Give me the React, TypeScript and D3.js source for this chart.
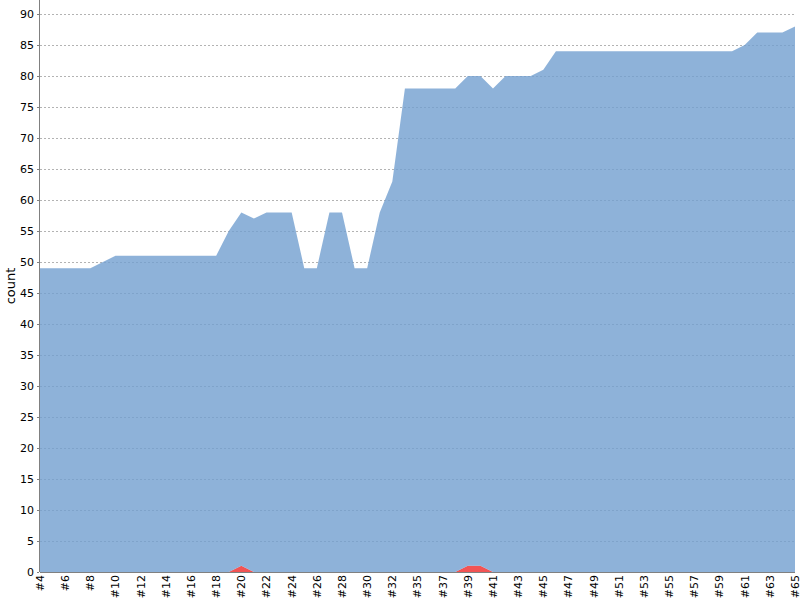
import React from 'react';
import * as d3 from 'd3';

// build labels (one build between #32 and #35 is absent)
const builds = [
  '#4', '#5', '#6', '#7', '#8', '#9', '#10', '#11', '#12', '#13', '#14', '#15', '#16', '#17', '#18',
  '#19', '#20', '#21', '#22', '#23', '#24', '#25', '#26', '#27', '#28', '#29', '#30', '#31', '#32',
  '#33', '#35', '#36', '#37', '#38', '#39', '#40', '#41', '#42', '#43', '#44', '#45', '#46', '#47',
  '#48', '#49', '#50', '#51', '#52', '#53', '#54', '#55', '#56', '#57', '#58', '#59', '#60', '#61',
  '#62', '#63', '#64', '#65',
];

const failed = [
  0, 0, 0, 0, 0, 0, 0, 0, 0, 0, 0, 0, 0, 0, 0,
  0, 1, 0, 0, 0, 0, 0, 0, 0, 0, 0, 0, 0, 0,
  0, 0, 0, 0, 0, 1, 1, 0, 0, 0, 0, 0, 0, 0,
  0, 0, 0, 0, 0, 0, 0, 0, 0, 0, 0, 0, 0, 0,
  0, 0, 0, 0,
];

const passed = [
  49, 49, 49, 49, 49, 50, 51, 51, 51, 51, 51, 51, 51, 51, 51,
  55, 57, 57, 58, 58, 58, 49, 49, 58, 58, 49, 49, 58, 63,
  78, 78, 78, 78, 78, 79, 79, 78, 80, 80, 80, 81, 84, 84,
  84, 84, 84, 84, 84, 84, 84, 84, 84, 84, 84, 84, 84, 85,
  87, 87, 87, 88,
];

const yTicks = d3.range(0, 91, 5);

const W = 800;
const H = 600;
const left = 40;
const right = 795;
const top = 0;
const bottom = 572;

const font = '"DejaVu Sans", Verdana, sans-serif';

export default function App() {
  const x = d3.scalePoint<string>().domain(builds).range([left, right]);
  const y = d3.scaleLinear().domain([0, 92.26]).range([bottom, top]);

  const rows = builds.map((b, i) => ({ b, f: failed[i], p: passed[i] }));

  // failures at the bottom, passes stacked on top
  const failArea = d3
    .area<typeof rows[0]>()
    .x((d) => x(d.b) as number)
    .y0(() => y(0))
    .y1((d) => y(d.f));

  const passArea = d3
    .area<typeof rows[0]>()
    .x((d) => x(d.b) as number)
    .y0((d) => y(d.f))
    .y1((d) => y(d.f + d.p));

  return (
    <svg
      width={W}
      height={H}
      style={{ position: 'absolute', left: 0, top: 0, background: '#fff' }}
      fontFamily={font}
    >
      {yTicks.map((t) => (
        <line
          key={'g' + t}
          x1={left}
          x2={right}
          y1={y(t) + 0.5}
          y2={y(t) + 0.5}
          stroke="#808080"
          strokeWidth={0.6}
          strokeDasharray="2,2"
        />
      ))}

      <path d={failArea(rows) || ''} fill="#ef2929" fillOpacity={0.8} />
      <path d={passArea(rows) || ''} fill="#729fcf" fillOpacity={0.8} />

      {/* y axis */}
      <line x1={left - 0.5} x2={left - 0.5} y1={top} y2={bottom} stroke="#808080" />
      {yTicks.map((t) => (
        <g key={'t' + t}>
          <line x1={left - 3} x2={left - 1} y1={y(t) + 0.5} y2={y(t) + 0.5} stroke="#808080" />
          <text x={left - 6} y={y(t)} dy="0.35em" textAnchor="end" fontSize={11} fill="#000">
            {t}
          </text>
        </g>
      ))}
      <text
        transform={`translate(15, ${(top + bottom) / 2}) rotate(-90)`}
        textAnchor="middle"
        fontSize={13}
        fill="#000"
      >
        count
      </text>

      {/* x axis */}
      <line x1={left} x2={right} y1={bottom + 0.5} y2={bottom + 0.5} stroke="#808080" />
      {builds
        .filter((_, i) => i % 2 === 0)
        .map((b) => (
          <text
            key={b}
            transform={`translate(${x(b)}, ${bottom + 3}) rotate(-90)`}
            dy="0.35em"
            textAnchor="end"
            fontSize={11}
            fill="#000"
          >
            {b}
          </text>
        ))}
    </svg>
  );
}
